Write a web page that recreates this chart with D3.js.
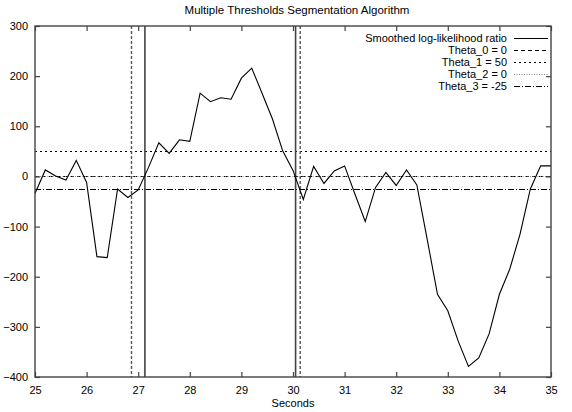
<!DOCTYPE html>
<html><head><meta charset="utf-8">
<script src="https://cdn.jsdelivr.net/npm/d3@7"></script>
<style>body{margin:0;background:#fff}svg{display:block}text{font-family:"Liberation Sans",Arial,sans-serif;fill:#000}</style>
</head><body>
<svg id="c" width="572" height="412"></svg>
<script>
const title = "Multiple Thresholds Segmentation Algorithm";
const xLabel = "Seconds";
const times = [25.0,25.2,25.4,25.6,25.8,26.0,26.2,26.4,26.6,26.8,27.0,27.2,27.4,27.6,27.8,28.0,28.2,28.4,28.6,28.8,29.0,29.2,29.4,29.6,29.8,30.0,30.2,30.4,30.6,30.8,31.0,31.2,31.4,31.6,31.8,32.0,32.2,32.4,32.6,32.8,33.0,33.2,33.4,33.6,33.8,34.0,34.2,34.4,34.6,34.8,35.0];
const llr = [-34,13,1,-7,32,-12,-160,-162,-25,-42,-27,18,67,46,73,70,166,149,157,154,196,216,166,115,51,12,-46,20,-14,11,21,-35,-90,-22,8,-18,13,-17,-125,-235,-268,-328,-379,-362,-314,-235,-185,-115,-25,21,21];
const thresholdNames = ["Theta_0 = 0","Theta_1 = 50","Theta_2 = 0","Theta_3 = -25"];
const thresholdValues = [0,50,0,-25];
const alarmTimes = [26.87,30.14];     // dashed verticals
const changeTimes = [27.13,30.05];    // solid verticals
const xTicks = [25,26,27,28,29,30,31,32,33,34,35];
const yTicks = [-400,-300,-200,-100,0,100,200,300];
const seriesName = "Smoothed log-likelihood ratio";

const W=572,H=412,m={l:35,r:21,t:26,b:35};
const svg=d3.select("#c");
const x=d3.scaleLinear().domain([25,35]).range([m.l,W-m.r]);
const y=d3.scaleLinear().domain([-400,300]).range([H-m.b,m.t]);
const dashes=["4,3","2,3","1,1.5","6,2,1,2"];
const tcol=["#000","#000","#888","#000"];

const g=svg.append("g");
thresholdValues.forEach((v,i)=>{
  g.append("line").attr("x1",x(25)).attr("x2",x(35)).attr("y1",Math.round(y(v))+0.5).attr("y2",Math.round(y(v))+0.5)
   .attr("stroke",tcol[i]).attr("stroke-width",1).attr("stroke-dasharray",dashes[i]);
});
alarmTimes.forEach(t=>{
  g.append("line").attr("x1",x(t)).attr("x2",x(t)).attr("y1",y(300)).attr("y2",y(-400))
   .attr("stroke","#555").attr("stroke-width",1.4).attr("stroke-dasharray","3,2");
});
changeTimes.forEach(t=>{
  g.append("line").attr("x1",x(t)).attr("x2",x(t)).attr("y1",y(300)).attr("y2",y(-400))
   .attr("stroke","#444").attr("stroke-width",1.6);
});
g.append("path").datum(times.map((t,i)=>[t,llr[i]]))
 .attr("d",d3.line().x(d=>x(d[0])).y(d=>y(d[1])))
 .attr("fill","none").attr("stroke","#000").attr("stroke-width",1.1);

const tl=5;
const ax=svg.append("g").attr("transform",`translate(0,${y(-400)})`)
 .call(d3.axisBottom(x).tickValues(xTicks).tickSizeInner(-tl).tickSizeOuter(0).tickPadding(7).tickFormat(d3.format("d")));
const axT=svg.append("g").attr("transform",`translate(0,${y(300)})`)
 .call(d3.axisTop(x).tickValues(xTicks).tickSizeInner(-tl).tickSizeOuter(0).tickFormat(""));
const ay=svg.append("g").attr("transform",`translate(${x(25)},0)`)
 .call(d3.axisLeft(y).tickValues(yTicks).tickSizeInner(-tl).tickSizeOuter(0).tickPadding(7).tickFormat(d3.format("d")));
const ayR=svg.append("g").attr("transform",`translate(${x(35)},0)`)
 .call(d3.axisRight(y).tickValues(yTicks).tickSizeInner(-tl).tickSizeOuter(0).tickFormat(""));
[ax,axT,ay,ayR].forEach(a=>{
  a.selectAll(".domain").remove();
  a.selectAll(".tick line").attr("stroke","#444").attr("stroke-width",1.2);
  a.selectAll("text").attr("font-size",11).attr("font-family","Liberation Sans, Arial, sans-serif");
});
ax.selectAll("text").attr("dy","0.9em");
svg.append("rect").attr("x",x(25)).attr("y",y(300)).attr("width",x(35)-x(25)).attr("height",y(-400)-y(300))
 .attr("fill","none").attr("stroke","#444").attr("stroke-width",1.4);

const cx=(x(25)+x(35))/2;
svg.append("text").attr("x",cx+4).attr("y",14).attr("text-anchor","middle").attr("font-size",11.5).text(title);
svg.append("text").attr("x",cx).attr("y",407).attr("text-anchor","middle").attr("font-size",11).text(xLabel);

const lg=svg.append("g");
const names=[seriesName].concat(thresholdNames);
const styles=[{d:null,c:"#000"}].concat(dashes.map((d,i)=>({d:d,c:tcol[i]})));
names.forEach((n,i)=>{
  const yy=38+i*12;
  lg.append("text").attr("x",x(35)-44).attr("y",yy).attr("dy","0.35em").attr("text-anchor","end").attr("font-size",11).text(n);
  lg.append("line").attr("x1",x(35)-37).attr("x2",x(35)-3).attr("y1",yy+0.5).attr("y2",yy+0.5)
    .attr("stroke",styles[i].c).attr("stroke-width",1).attr("stroke-dasharray",styles[i].d);
});
</script>
</body></html>
